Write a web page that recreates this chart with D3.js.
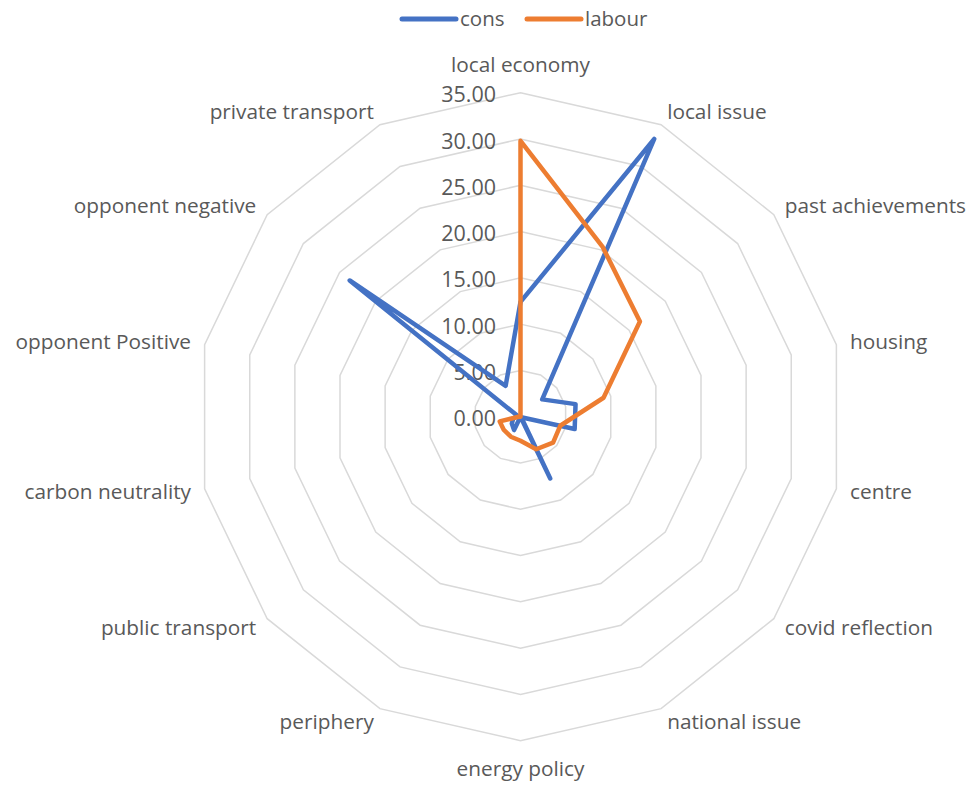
<!DOCTYPE html>
<html>
<head>
<meta charset="utf-8">
<script src="https://cdn.jsdelivr.net/npm/d3@7"></script>
<style>
  body { margin: 0; background: #fff; }
  text { font-family: "Open Sans", sans-serif; fill: #595959; }
</style>
</head>
<body>
<div class="chart"></div>
<script>
// categories go clockwise from the top
var categories = ["local economy", "local issue", "past achievements", "housing", "centre",
  "covid reflection", "national issue", "energy policy", "periphery", "public transport",
  "carbon neutrality", "opponent Positive", "opponent negative", "private transport"];

var cons = [12.4, 33.3, 3.0, 6.1, 6.0, 0.1, 7.4, 0.0, 1.6, 1.2, 0.8, 0.3, 23.6, 3.7];
var labour = [29.8, 20.4, 16.5, 9.2, 4.4, 4.5, 3.9, 2.6, 2.4, 2.3, 2.3, 0.1, 0.1, 0.0];

var tickValues = [0, 5, 10, 15, 20, 25, 30, 35];

var seriesNames = ["cons", "labour"];
var seriesColors = ["#4472C4", "#ED7D31"];

var svgWidth = 974;
var svgHeight = 788;
var cx = 520.5;
var cy = 416.7;
var radius = 324;

var svg = d3.select(".chart")
  .append("svg")
  .attr("width", svgWidth)
  .attr("height", svgHeight);

var rScale = d3.scaleLinear()
  .domain([0, 35])
  .range([0, radius]);

var step = 2 * Math.PI / categories.length;

// x/y of a value on category i
function pt(i, v) {
  var a = i * step;
  return [cx + rScale(v) * Math.sin(a), cy - rScale(v) * Math.cos(a)];
}

var chartGroup = svg.append("g");

// grid rings
tickValues.forEach(function(t) {
  if (t === 0) return;
  var ring = categories.map(function(c, i) { return pt(i, t); });
  chartGroup.append("polygon")
    .attr("points", ring.map(function(p) { return p.join(","); }).join(" "))
    .attr("fill", "none")
    .attr("stroke", "#d9d9d9")
    .attr("stroke-width", 1.5);
});

// tick labels
chartGroup.selectAll(".tick-label")
  .data(tickValues)
  .enter()
  .append("text")
  .attr("class", "tick-label")
  .attr("x", cx - 24.5)
  .attr("y", d => cy - rScale(d) + 2)
  .attr("dy", "0.35em")
  .attr("text-anchor", "end")
  .style("font-size", "21.5px")
  .text(d => d.toFixed(2));

// category labels
categories.forEach(function(c, i) {
  var p = pt(i, 35 + 14 * 35 / radius);
  var sx = Math.sin(i * step);
  var label = chartGroup.append("text")
    .style("font-size", "20.8px")
    .text(c);
  if (Math.abs(sx) < 0.01) {
    var top = Math.cos(i * step) > 0;
    label.attr("x", p[0])
      .attr("y", top ? p[1] - 7 : p[1] + 21)
      .attr("text-anchor", "middle");
  } else {
    label.attr("x", p[0])
      .attr("y", p[1])
      .attr("dy", "0.35em")
      .attr("text-anchor", sx > 0 ? "start" : "end");
  }
});

// series lines
var line = d3.line()
  .x(d => d[0])
  .y(d => d[1])
  .curve(d3.curveLinearClosed);

[cons, labour].forEach(function(vals, k) {
  chartGroup.append("path")
    .datum(vals.map(function(v, i) { return pt(i, v); }))
    .attr("d", line)
    .attr("fill", "none")
    .attr("stroke", seriesColors[k])
    .attr("stroke-width", 4.5)
    .attr("stroke-linejoin", "round")
    .attr("stroke-linecap", "round");
});

// legend
var legendX = [402, 527];
var legend = svg.append("g");
seriesNames.forEach(function(name, k) {
  legend.append("line")
    .attr("x1", legendX[k])
    .attr("x2", legendX[k] + 54)
    .attr("y1", 19)
    .attr("y2", 19)
    .attr("stroke", seriesColors[k])
    .attr("stroke-width", 5)
    .attr("stroke-linecap", "round");
  legend.append("text")
    .attr("x", legendX[k] + 58)
    .attr("y", 19)
    .attr("dy", "0.35em")
    .style("font-size", "20.5px")
    .text(name);
});
</script>
</body>
</html>
